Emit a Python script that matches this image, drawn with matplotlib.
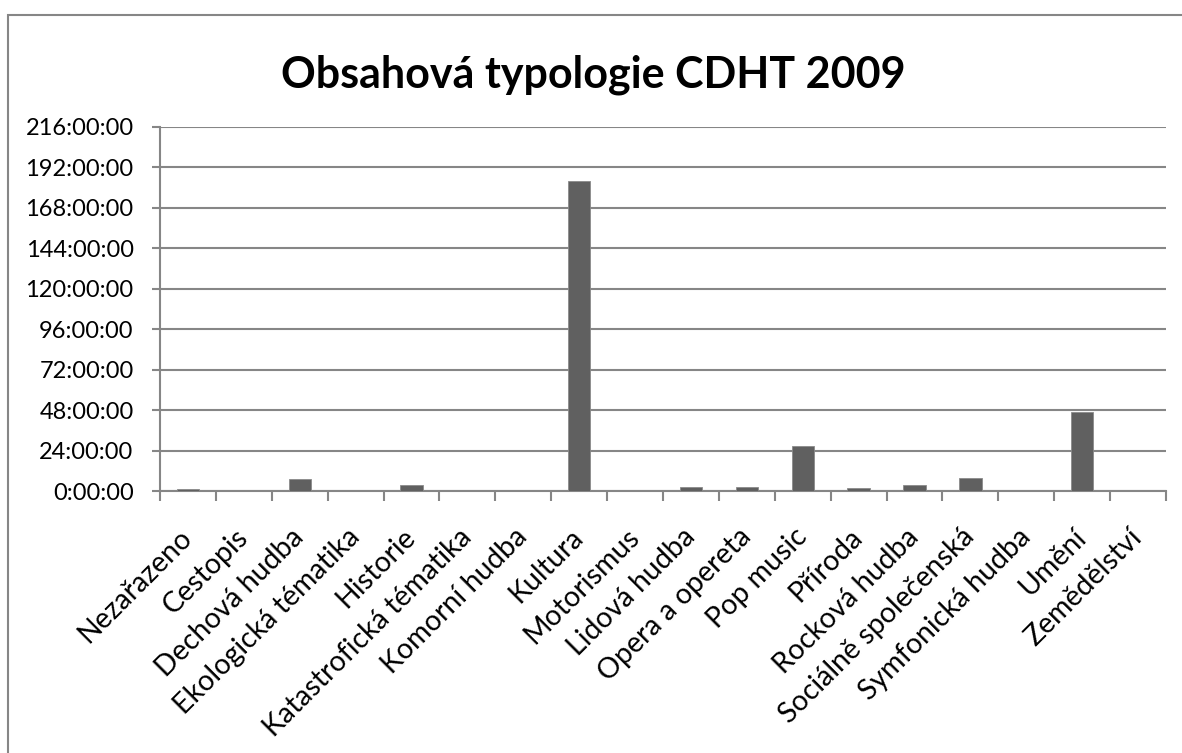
import numpy as np
import matplotlib
matplotlib.use("Agg")
import matplotlib.pyplot as plt
from matplotlib.ticker import FuncFormatter, FixedLocator
from matplotlib.patches import Rectangle

# categories and total length per category (hours)
categories = ["Nezařazeno", "Cestopis", "Dechová hudba", "Ekologická tématika",
              "Historie", "Katastrofická tématika", "Komorní hudba", "Kultura",
              "Motorismus", "Lidová hudba", "Opera a opereta", "Pop music",
              "Příroda", "Rocková hudba", "Sociálně společenská",
              "Symfonická hudba", "Umění", "Zemědělství"]
hours = [1.2, 0.3, 7.3, 0.1, 3.8, 0.8, 0.3, 184.0,
         0.1, 2.4, 2.7, 27.0, 2.0, 3.6, 8.1, 1.0, 46.8, 0.05]
y_ticks = list(range(0, 217, 24))

plt.rcParams['font.family'] = ['Lato', 'DejaVu Sans']

W, H = 1182, 753
fig = plt.figure(figsize=(W / 100, H / 100), dpi=100)

# outer chart border (cropped at right/bottom like the original)
fig.patches.append(Rectangle((8 / W, -0.01), 1.2, 1 - 15 / H + 0.01,
                             transform=fig.transFigure, fill=False,
                             edgecolor="#868686", linewidth=1.5))

left, right, top, bottom = 160, 1166, 126.7, 491.3
ax = fig.add_axes([left / W, 1 - bottom / H, (right - left) / W, (bottom - top) / H])

x = np.arange(len(categories))
ax.bar(x, hours, width=0.4, color="#606060", edgecolor="#8a8a8a", linewidth=0.6, zorder=3)

ax.set_xlim(-0.5, len(categories) - 0.5)
ax.set_ylim(0, 216)
ax.yaxis.set_major_locator(FixedLocator(y_ticks))
ax.yaxis.set_major_formatter(FuncFormatter(lambda v, p: "%d:00:00" % v))
ax.grid(axis="y", color="#868686", linewidth=1.5, zorder=0)

for s in ["top", "right"]:
    ax.spines[s].set_visible(False)
for s in ["left", "bottom"]:
    ax.spines[s].set_color("#868686")
    ax.spines[s].set_linewidth(1.5)

ax.tick_params(axis="y", length=6, width=1.5, color="#868686", pad=13, labelsize=17)

# x ticks at category boundaries, labels at centres
ax.set_xticks(x)
ax.set_xticks(np.arange(-0.5, len(categories)), minor=True)
ax.tick_params(axis="x", which="major", length=0, pad=30)
ax.tick_params(axis="x", which="minor", length=7, width=1.5, color="#868686")
ax.set_xticklabels(categories, rotation=45, ha="right", va="center",
                   rotation_mode="anchor", fontsize=20.5)

fig.text(0.502, 1 - 75 / H, "Obsahová typologie CDHT 2009", ha="center", va="center",
         fontsize=31, fontweight="bold")

fig.savefig("out.png", dpi=100)
